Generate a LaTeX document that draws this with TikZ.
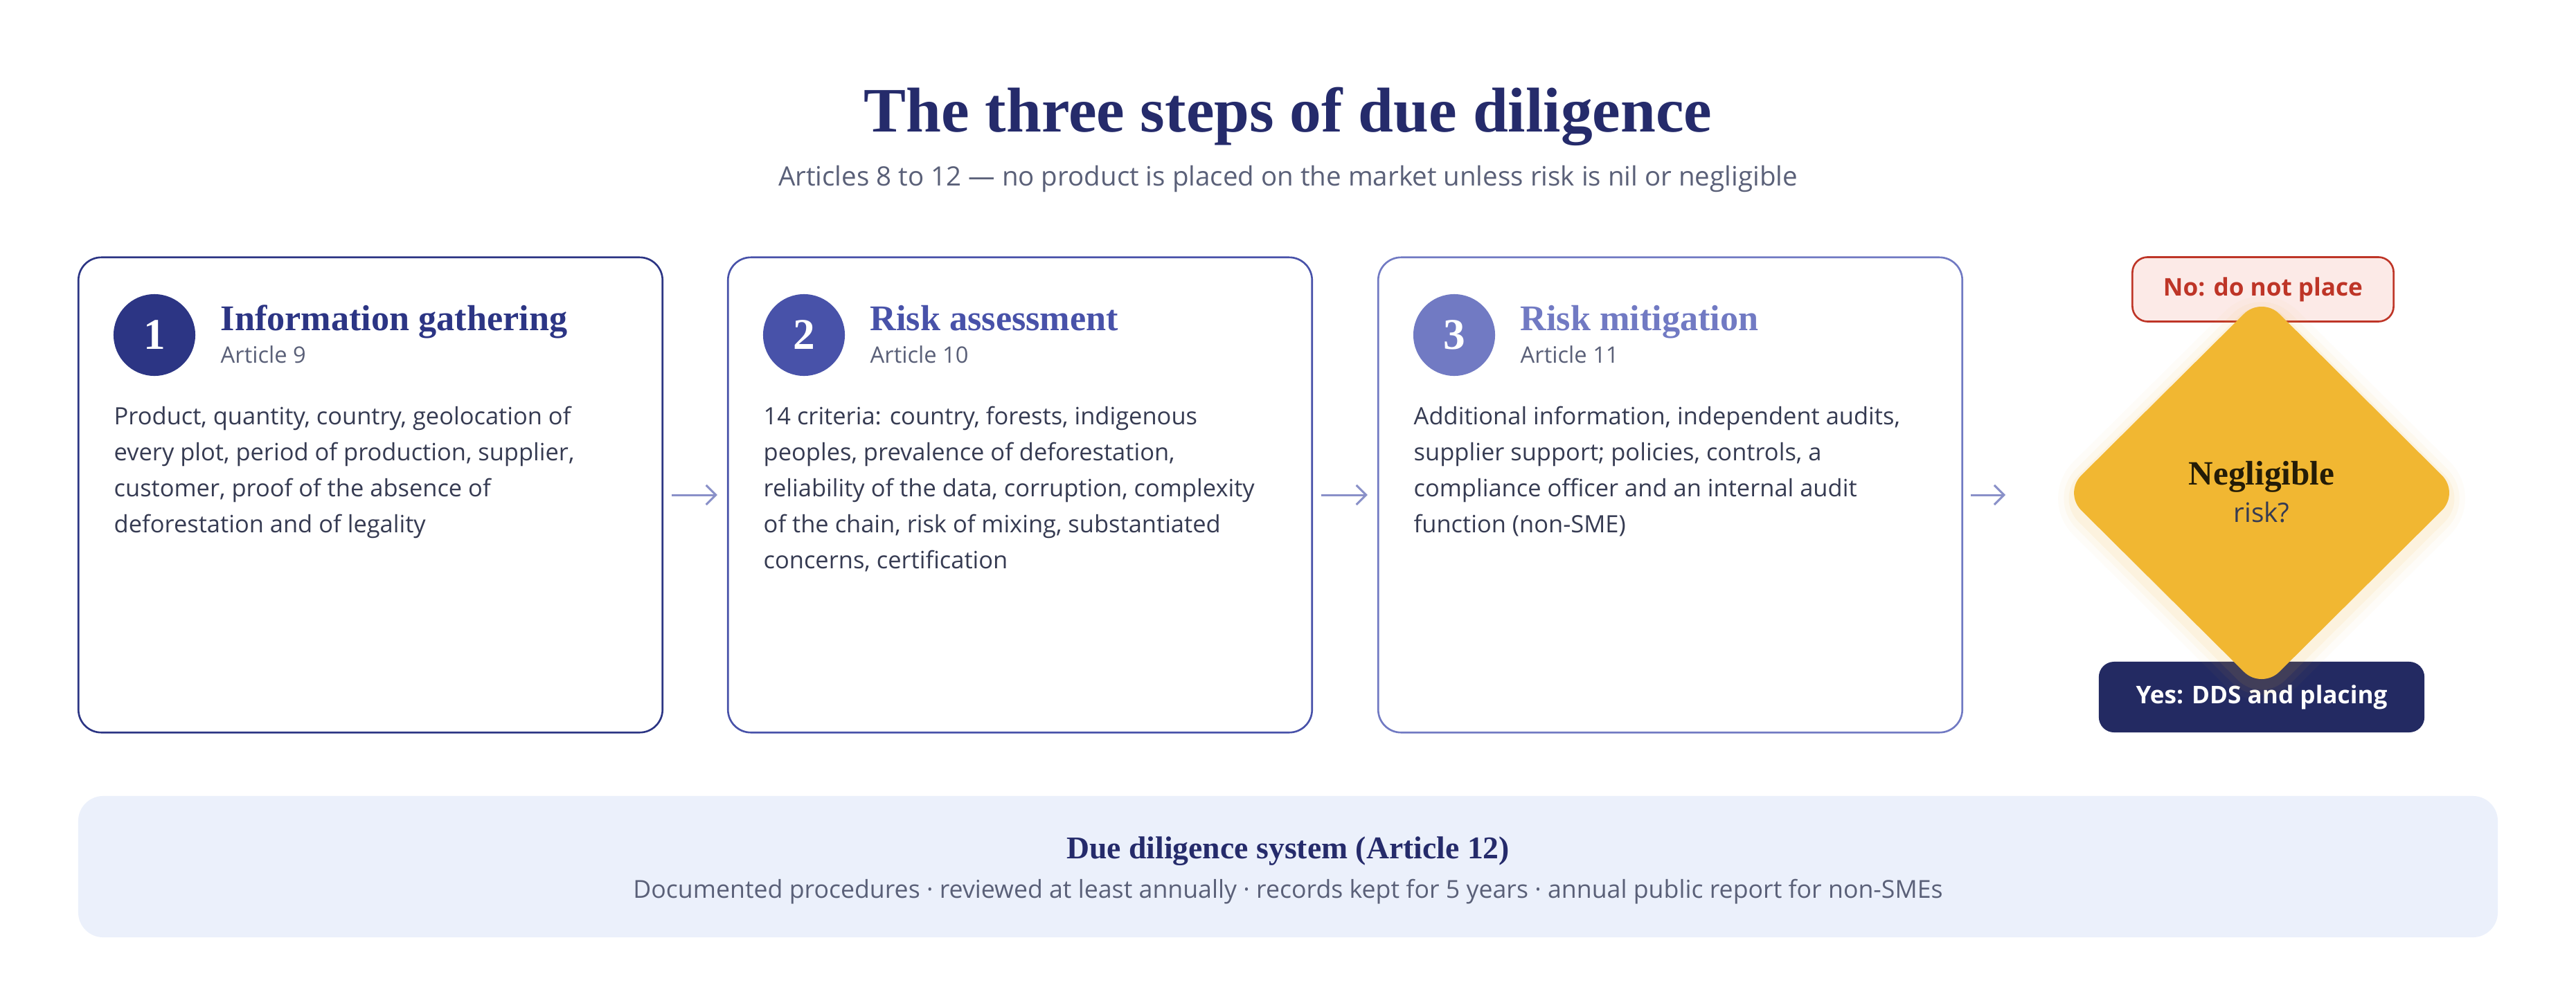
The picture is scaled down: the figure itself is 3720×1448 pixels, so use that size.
\documentclass[tikz,border=0pt]{standalone}
\usepackage{fontspec}
\setmainfont{Open Sans}
\newfontfamily\headfont{Liberation Serif}
\usetikzlibrary{shapes.geometric,arrows.meta,positioning}
\tikzset{>={Straight Barb[length=4pt,width=8pt]}}
\definecolor{navy}{HTML}{252B6B}
\definecolor{stepA}{HTML}{2C3584}
\definecolor{stepB}{HTML}{4852A9}
\definecolor{stepC}{HTML}{717AC3}
\definecolor{ink}{HTML}{363B52}
\definecolor{grey}{HTML}{5A6078}
\definecolor{flowc}{HTML}{8990C8}
\definecolor{gold}{HTML}{F1B732}
\definecolor{nored}{HTML}{BE3527}
\definecolor{nofill}{HTML}{FCEAE7}
\definecolor{yesfill}{HTML}{232A62}
\definecolor{band}{HTML}{EBF0FB}
\tikzset{
  stepbox/.style={draw, fill=white, line width=0.75pt, rounded corners=0.33cm,
    minimum width=8.43cm, minimum height=6.86cm},
  stepnum/.style={circle, minimum size=1.18cm, inner sep=0pt, text=white,
    font=\headfont\bfseries\fontsize{18}{18}\selectfont},
  steptitle/.style={anchor=base west, inner sep=0pt,
    font=\headfont\bfseries\fontsize{14.85}{16}\selectfont},
  article/.style={anchor=base west, inner sep=0pt, text=grey,
    font=\fontsize{9.3}{11}\selectfont},
  body/.style={anchor=north west, inner sep=0pt, align=left, text=ink,
    font=\fontsize{9.8}{14.8}\selectfont},
  flow/.style={->, flowc, line width=0.85pt},
  decide/.style={diamond, aspect=1, inner sep=0pt, rounded corners=0.36cm,
    minimum width=5.72cm, minimum height=5.68cm},
  outcome/.style={rounded corners=0.22cm, inner sep=0pt,
    font=\bfseries\fontsize{10}{12}\selectfont},
}

\begin{document}
\begin{tikzpicture}[x=0.01cm,y=-0.01cm]
  \useasboundingbox[fill=white] (0,0) rectangle (3720,1448);

  \node[anchor=base, text=navy, font=\headfont\bfseries\fontsize{26}{30}\selectfont]
    (title) at (1860,190) {The three steps of due diligence};
  \node[anchor=base, text=grey, font=\fontsize{10.95}{13}\selectfont]
    (subtitle) at (1860,268) {Articles 8 to 12 — no product is placed on the market unless risk is nil or negligible};

  \node[stepbox, draw=stepA] (box1) at (535,715) {};
  \node[stepnum, fill=stepA] (num1) at (223,484) {1};
  \node[steptitle, text=stepA] (head1) at (318,477) {Information gathering};
  \node[article] (art1) at (318,524) {Article 9};
  \node[body] (text1) at (164,586) {Product, quantity, country, geolocation of\\
    every plot, period of production, supplier,\\
    customer, proof of the absence of\\
    deforestation and of legality};

  \node[stepbox, draw=stepB] (box2) at (1473,715) {};
  \node[stepnum, fill=stepB] (num2) at (1161,484) {2};
  \node[steptitle, text=stepB] (head2) at (1256,477) {Risk assessment};
  \node[article] (art2) at (1256,524) {Article 10};
  \node[body] (text2) at (1102,586) {14 criteria: country, forests, indigenous\\
    peoples, prevalence of deforestation,\\
    reliability of the data, corruption, complexity\\
    of the chain, risk of mixing, substantiated\\
    concerns, certification};

  \node[stepbox, draw=stepC] (box3) at (2412,715) {};
  \node[stepnum, fill=stepC] (num3) at (2100,484) {3};
  \node[steptitle, text=stepC] (head3) at (2195,477) {Risk mitigation};
  \node[article] (art3) at (2195,524) {Article 11};
  \node[body] (text3) at (2041,586) {Additional information, independent audits,\\
    supplier support; policies, controls, a\\
    compliance officer and an internal audit\\
    function (non-SME)};

  \node[outcome, fill=nofill, draw=nored, line width=0.75pt, text=nored,
    minimum width=3.77cm, minimum height=0.93cm] (no) at (3268,418) {No: do not place};
  \node[outcome, fill=yesfill, text=white,
    minimum width=4.70cm, minimum height=1.02cm] (yes) at (3266,1007) {Yes: DDS and placing};

  \foreach \w/\o in {22pt/0.03,14pt/0.05,7pt/0.08}
    \node[decide, draw=gold, line width=\w, draw opacity=\o] (glow) at (3266,720) {};
  \node[decide, fill=gold] (dia) at (3266,712) {};
  \node[anchor=base, text=black!85!gold, font=\headfont\bfseries\fontsize{14}{16}\selectfont]
    (neg) at (3266,700) {Negligible};
  \node[anchor=base, text=ink, font=\fontsize{11}{13}\selectfont] (risk) at (3266,754) {risk?};

  \draw[flow, shorten <=0.12cm, shorten >=0.14cm] (box1) -- (box2);
  \draw[flow, shorten <=0.12cm, shorten >=0.14cm] (box2) -- (box3);
  \draw[flow, shorten <=0.11cm, shorten >=0.83cm] (box3.east) -- (box3.east -| dia.west);

  \node[fill=band, rounded corners=0.36cm, minimum width=34.92cm, minimum height=2.04cm]
    (system) at (1860,1252) {};
  \node[anchor=base, text=navy, font=\headfont\bfseries\fontsize{13}{15}\selectfont]
    (systitle) at (1860,1240) {Due diligence system (Article 12)};
  \node[anchor=base, text=grey, font=\fontsize{10.15}{12}\selectfont]
    (sysline) at (1860,1297) {Documented procedures · reviewed at least annually · records kept for 5 years · annual public report for non-SMEs};
\end{tikzpicture}
\end{document}
